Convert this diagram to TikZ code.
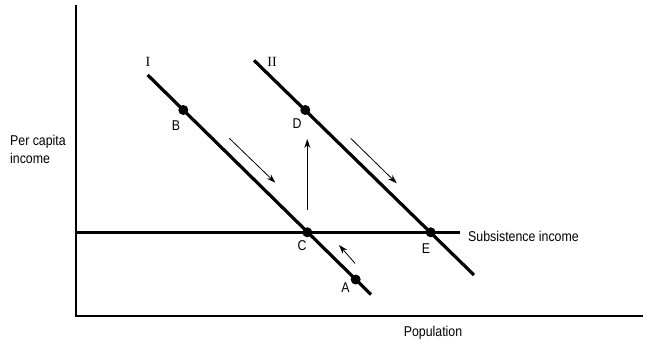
\documentclass[tikz,border=0pt]{standalone}
\usepackage{fontspec}
\setmainfont{Liberation Sans}
\newfontfamily\seriffont{Liberation Serif}
\usetikzlibrary{arrows.meta}
\begin{document}
\begin{tikzpicture}[x=1pt,y=-1pt,
  axis/.style={line width=1.3pt},
  curve/.style={line width=3.2pt},
  dot/.style={circle,fill=black,inner sep=0pt,minimum size=10pt},
  lbl/.style={font=\fontsize{14.2}{18}\selectfont,inner sep=0pt,xscale=0.87},
  rom/.style={font=\seriffont\fontsize{14}{16}\selectfont,inner sep=0pt},
  move/.style={line width=0.8pt,-{Stealth[length=9pt,width=6pt]}}]
\useasboundingbox (0,0) rectangle (649,348);
% axes
\coordinate (O) at (76,316);
\coordinate (Ytop) at (76,5);
\coordinate (Xend) at (643,316);
\draw[axis] (Ytop) -- (O) -- (Xend);
% subsistence line
\coordinate (S0) at (76,232.3);
\coordinate (S1) at (460,232.3);
\draw[curve] (S0) -- (S1);
% line I
\coordinate (I0) at (147.7,75);
\coordinate (I1) at (371,294.5);
\draw[curve] (I0) -- (I1);
% line II
\coordinate (II0) at (254,60.3);
\coordinate (II1) at (474,275);
\draw[curve] (II0) -- (II1);
% points
\node[dot] (B) at (183.3,110) {};
\node[dot] (C) at (307.3,232.3) {};
\node[dot] (A) at (355.7,279.5) {};
\node[dot] (D) at (305.3,110) {};
\node[dot] (E) at (430.7,232.3) {};
% point labels
\node[lbl] (lB) at (176,126) {B};
\node[lbl] (lC) at (302,246) {C};
\node[lbl] (lA) at (345.5,287.5) {A};
\node[lbl] (lD) at (297,124) {D};
\node[lbl] (lE) at (426,249) {E};
\node[rom] (lI) at (148,62) {I};
\node[rom] (lII) at (272,62) {II};
% axis labels
\node[lbl,anchor=west] (sub) at (468,236) {Subsistence income};
\node[lbl,anchor=north west,align=left] (pci) at (10,135) {Per capita\\income};
\node[lbl] (pop) at (433,333) {Population};
% movement arrows
\coordinate (a1s) at (229.3,138.3);
\coordinate (a1e) at (275.3,182.7);
\draw[move] (a1s) -- (a1e);
\coordinate (a2s) at (307.3,210);
\coordinate (a2e) at (307.3,139);
\draw[move] (a2s) -- (a2e);
\coordinate (a3s) at (350.7,138.3);
\coordinate (a3e) at (396.7,183.3);
\draw[move] (a3s) -- (a3e);
\coordinate (a4s) at (355,263.3);
\coordinate (a4e) at (339,245);
\draw[move] (a4s) -- (a4e);
\end{tikzpicture}
\end{document}
